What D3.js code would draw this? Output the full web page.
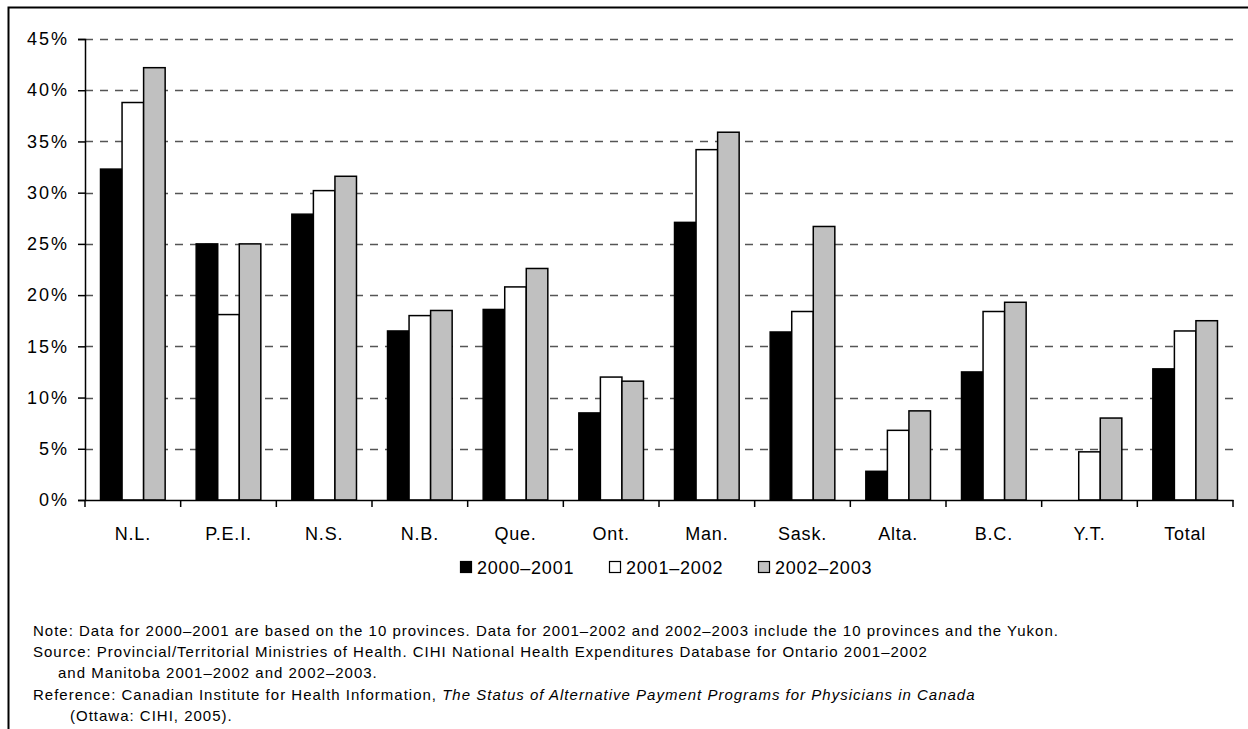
<!DOCTYPE html>
<meta charset="utf-8">
<style>
	body { margin: 0; background: #fff; }
	text { font-family: "Liberation Sans", Arial, sans-serif; fill: #000; }
	.axis text { font-size: 18px; letter-spacing: 0.8px; }
	.yaxis text { letter-spacing: 2px; }
	.note { font-size: 15px; letter-spacing: 1px; }
</style>
<body>
<script src="https://cdnjs.cloudflare.com/ajax/libs/d3/7.8.5/d3.min.js"></script>
<script>
var categories = ["N.L.", "P.E.I.", "N.S.", "N.B.", "Que.", "Ont.", "Man.", "Sask.", "Alta.", "B.C.", "Y.T.", "Total"];
var series = ["2000\u20132001", "2001\u20132002", "2002\u20132003"];
var v2000 = [32.3, 25.0, 27.9, 16.5, 18.6, 8.5, 27.1, 16.4, 2.8, 12.5, null, 12.8];
var v2001 = [38.8, 18.1, 30.2, 18.0, 20.8, 12.0, 34.2, 18.4, 6.8, 18.4, 4.7, 16.5];
var v2002 = [42.2, 25.0, 31.6, 18.5, 22.6, 11.6, 35.9, 26.7, 8.7, 19.3, 8.0, 17.5];
var yTicks = [0, 5, 10, 15, 20, 25, 30, 35, 40, 45];
var colors = ["#000000", "#ffffff", "#c0c0c0"];
var notes = [
	{x: 33, parts: [["Note: Data for 2000\u20132001 are based on the 10 provinces. Data for 2001\u20132002 and 2002\u20132003 include the 10 provinces and the Yukon.", false]]},
	{x: 33, parts: [["Source: Provincial/Territorial Ministries of Health. CIHI National Health Expenditures Database for Ontario 2001\u20132002", false]]},
	{x: 58, parts: [["and Manitoba 2001\u20132002 and 2002\u20132003.", false]]},
	{x: 33, parts: [["Reference: Canadian Institute for Health Information, ", false], ["The Status of Alternative Payment Programs for Physicians in Canada", true]]},
	{x: 70, parts: [["(Ottawa: CIHI, 2005).", false]]}
];

var values = [v2000, v2001, v2002];
var data = categories.map(function(c, i) {
	return {cat: c, vals: series.map(function(s, j) { return {key: s, i: j, v: values[j][i]}; })};
});

var W = 1248, H = 729;
var svg = d3.select("body").append("svg")
	.attr("width", W)
	.attr("height", H);

// frame (only left and top edges show in the picture)
svg.append("rect")
	.attr("x", 8.5).attr("y", 7.5)
	.attr("width", 1300).attr("height", 800)
	.attr("fill", "none").attr("stroke", "#000").attr("stroke-width", 2);

var x0 = d3.scaleBand().domain(categories).range([85, 1233]).padding(0);
var x1 = d3.scaleBand().domain(series).range([0, x0.bandwidth()]).paddingInner(0).paddingOuter(0.72);
var y = d3.scaleLinear().domain([0, 45]).range([500, 39]);

// dashed gridlines
svg.append("g").selectAll("line")
	.data(yTicks.filter(function(d) { return d > 0; }))
	.enter().append("line")
	.attr("x1", 85).attr("x2", 1233)
	.attr("y1", function(d) { return Math.round(y(d)) + 0.5; })
	.attr("y2", function(d) { return Math.round(y(d)) + 0.5; })
	.attr("stroke", "#555")
	.attr("stroke-width", 1.5)
	.attr("stroke-dasharray", "8,7");

// bars
var groups = svg.append("g").selectAll("g")
	.data(data)
	.enter().append("g")
	.attr("transform", function(d) { return "translate(" + x0(d.cat) + ",0)"; });

groups.selectAll("rect")
	.data(function(d) { return d.vals.filter(function(e) { return e.v != null; }); })
	.enter().append("rect")
	.attr("x", function(d) { return x1(d.key); })
	.attr("width", x1.bandwidth())
	.attr("y", function(d) { return y(d.v); })
	.attr("height", function(d) { return y(0) - y(d.v); })
	.attr("fill", function(d) { return colors[d.i]; })
	.attr("stroke", "#000")
	.attr("stroke-width", 1.5);

// y axis
var yAxis = svg.append("g")
	.attr("class", "axis yaxis")
	.attr("transform", "translate(85,0)")
	.call(d3.axisLeft(y).tickValues(yTicks).tickSize(7).tickPadding(9)
		.tickFormat(function(d) { return d + "%"; }));

// x axis, ticks between categories
var xAxis = svg.append("g")
	.attr("class", "axis")
	.attr("transform", "translate(0,500)")
	.call(d3.axisBottom(x0).tickSize(0).tickPadding(27));
xAxis.selectAll(".tick text").attr("dy", "0.71em");
xAxis.selectAll(".sep")
	.data(categories.concat(["end"]))
	.enter().append("line")
	.attr("x1", function(d, i) { return 85 + i * x0.step(); })
	.attr("x2", function(d, i) { return 85 + i * x0.step(); })
	.attr("y1", 0).attr("y2", 7)
	.attr("stroke", "#000").attr("stroke-width", 1.5);

svg.selectAll(".axis .domain").attr("stroke", "#000").attr("stroke-width", 1.5);
svg.selectAll(".axis .tick line").attr("stroke", "#000").attr("stroke-width", 1.5);
svg.selectAll(".axis .tick text").attr("font-family", null).attr("font-size", null);

// legend
var legendX = [460, 609, 758];
var legend = svg.append("g").selectAll("g")
	.data(series)
	.enter().append("g")
	.attr("transform", function(d, i) { return "translate(" + legendX[i] + ",561)"; });
legend.append("rect")
	.attr("x", 0.5).attr("y", 0.5)
	.attr("width", 11).attr("height", 11)
	.attr("fill", function(d, i) { return colors[i]; })
	.attr("stroke", "#000").attr("stroke-width", 1.2);
legend.append("text")
	.attr("x", 17).attr("y", 13)
	.style("font-size", "18px").style("letter-spacing", "0.8px")
	.text(function(d) { return d; });

// notes
var lineY = [636, 657, 678, 700, 721];
var noteText = svg.append("g").selectAll("text")
	.data(notes)
	.enter().append("text")
	.attr("class", "note")
	.attr("x", function(d) { return d.x; })
	.attr("y", function(d, i) { return lineY[i]; });
noteText.selectAll("tspan")
	.data(function(d) { return d.parts; })
	.enter().append("tspan")
	.style("font-style", function(d) { return d[1] ? "italic" : "normal"; })
	.text(function(d) { return d[0]; });
</script>
</body>
